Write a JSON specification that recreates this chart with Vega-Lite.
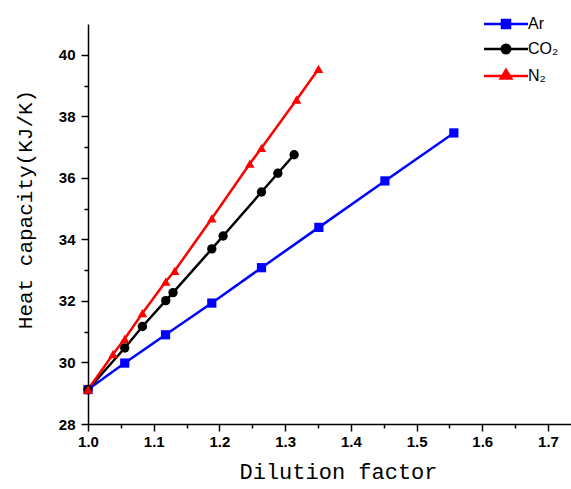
{
  "$schema": "https://vega.github.io/schema/vega-lite/v6.json",
  "width": 483,
  "height": 400,
  "autosize": {"type": "none"},
  "padding": {"left": 88, "top": 24, "right": 0, "bottom": 65},
  "background": "white",
  "view": {"stroke": null},
  "config": {
    "axis": {
      "grid": false,
      "labelFlush": false,
      "domainColor": "black",
      "domainWidth": 1.5,
      "tickColor": "black",
      "tickWidth": 1.5,
      "labelFont": "Liberation Sans",
      "labelFontWeight": "bold",
      "labelFontSize": 15,
      "labelColor": "black",
      "titleFont": "Liberation Mono",
      "titleFontWeight": "normal",
      "titleColor": "black"
    }
  },
  "data": {
    "values": [
      {"series": "Ar", "x": 1.0, "y": 29.12},
      {"series": "Ar", "x": 1.0559, "y": 29.98},
      {"series": "Ar", "x": 1.118, "y": 30.9},
      {"series": "Ar", "x": 1.1884, "y": 31.93},
      {"series": "Ar", "x": 1.264, "y": 33.08},
      {"series": "Ar", "x": 1.3513, "y": 34.39},
      {"series": "Ar", "x": 1.4518, "y": 35.9},
      {"series": "Ar", "x": 1.5567, "y": 37.46},
      {"series": "CO₂", "x": 1.0, "y": 29.12},
      {"series": "CO₂", "x": 1.0559, "y": 30.47},
      {"series": "CO₂", "x": 1.0828, "y": 31.17},
      {"series": "CO₂", "x": 1.1183, "y": 32.01},
      {"series": "CO₂", "x": 1.1294, "y": 32.27},
      {"series": "CO₂", "x": 1.1884, "y": 33.69},
      {"series": "CO₂", "x": 1.2056, "y": 34.11},
      {"series": "CO₂", "x": 1.264, "y": 35.54},
      {"series": "CO₂", "x": 1.2889, "y": 36.15},
      {"series": "CO₂", "x": 1.3137, "y": 36.75},
      {"series": "N₂", "x": 1.0, "y": 29.12},
      {"series": "N₂", "x": 1.0381, "y": 30.27},
      {"series": "N₂", "x": 1.0559, "y": 30.77},
      {"series": "N₂", "x": 1.0828, "y": 31.6},
      {"series": "N₂", "x": 1.1183, "y": 32.63},
      {"series": "N₂", "x": 1.132, "y": 32.98},
      {"series": "N₂", "x": 1.1884, "y": 34.68},
      {"series": "N₂", "x": 1.2462, "y": 36.46},
      {"series": "N₂", "x": 1.264, "y": 36.97},
      {"series": "N₂", "x": 1.3173, "y": 38.54},
      {"series": "N₂", "x": 1.3508, "y": 39.54}
    ]
  },
  "resolve": {"axis": {"x": "independent", "y": "independent"}},
  "layer": [
    {
      "mark": {"type": "line", "strokeWidth": 2.5},
      "encoding": {
        "x": {
          "field": "x", "type": "quantitative",
          "scale": {"domain": [1.0, 1.735], "nice": false, "zero": false},
          "axis": {
            "orient": "bottom",
            "values": [1.0, 1.1, 1.2, 1.3, 1.4, 1.5, 1.6, 1.7],
            "format": ".1f",
            "tickSize": 7,
            "labelPadding": 3,
            "title": "Dilution factor",
            "titleFontSize": 22,
            "titleX": 250,
            "titleY": 54,
            "titleBaseline": "alphabetic",
            "titleAlign": "center"
          }
        },
        "y": {
          "field": "y", "type": "quantitative",
          "scale": {"domain": [28, 41], "nice": false, "zero": false},
          "axis": {
            "orient": "left",
            "values": [28, 30, 32, 34, 36, 38, 40],
            "format": "d",
            "tickSize": 7,
            "labelPadding": 6,
            "title": "Heat capacity(KJ/K)",
            "titleFontSize": 21,
            "titleAngle": -90,
            "titleX": -63,
            "titleY": 185,
            "titleBaseline": "middle",
            "titleAlign": "center"
          }
        },
        "color": {
          "field": "series", "type": "nominal",
          "scale": {"domain": ["Ar", "CO₂", "N₂"], "range": ["#0000FF", "#000000", "#FF0000"]},
          "legend": {
            "orient": "none",
            "legendX": 410,
            "legendY": -8,
            "title": null,
            "symbolSize": 100,
            "symbolStrokeWidth": 2.5,
            "labelOffset": 14,
            "labelFont": "Liberation Sans",
            "labelFontSize": 16,
            "labelColor": "black",
            "rowPadding": 6,
            "encode": {
              "symbols": {
                "update": {
                  "shape": {"signal": "datum.value === 'Ar' ? 'M-4.4,0H4.4M-0.8,-0.8H0.8V0.8H-0.8Z' : (datum.value === 'N₂' ? 'M-4.4,0H4.4M0,-1.2L1.05,0.5H-1.05Z' : 'M-4.4,0H4.4M0.85,0A0.85,0.85,0,1,1,-0.85,0A0.85,0.85,0,1,1,0.85,0Z')"},
                  "fill": {"signal": "scale('color', datum.value)"},
                  "strokeWidth": {"value": 2.5},
                  "fillOpacity": {"value": 1},
                  "strokeOpacity": {"value": 1}
                }
              }
            }
          }
        }
      }
    },
    {
      "mark": {"type": "point", "filled": true, "opacity": 1},
      "encoding": {
        "x": {
          "field": "x", "type": "quantitative",
          "axis": {
            "orient": "bottom",
            "values": [1.05, 1.15, 1.25, 1.35, 1.45, 1.55, 1.65],
            "labels": false,
            "domain": false,
            "tickSize": 4,
            "title": null
          }
        },
        "y": {
          "field": "y", "type": "quantitative",
          "axis": {
            "orient": "left",
            "values": [29, 31, 33, 35, 37, 39],
            "labels": false,
            "domain": false,
            "tickSize": 4,
            "title": null
          }
        },
        "color": {"field": "series", "type": "nominal", "legend": null},
        "shape": {
          "field": "series", "type": "nominal",
          "scale": {"range": ["square", "circle", "triangle-up"]},
          "legend": null
        },
        "size": {
          "field": "series", "type": "nominal",
          "scale": {"range": [85, 90, 130]},
          "legend": null
        }
      }
    }
  ]
}
